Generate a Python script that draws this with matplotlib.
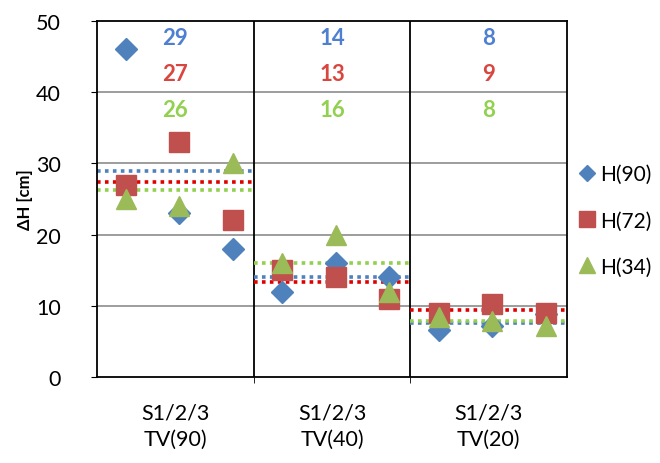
import numpy as np
import matplotlib
matplotlib.use("Agg")
import matplotlib.pyplot as plt

plt.rcParams['font.family'] = ['Lato', 'DejaVu Sans']

groups = ["S1/2/3\nTV(90)", "S1/2/3\nTV(40)", "S1/2/3\nTV(20)"]
series_names = ["H(90)", "H(72)", "H(34)"]

# S1, S2, S3 values for each group
h90 = [[46, 23, 18], [12, 16, 14], [6.6, 7.1, 8.9]]
h72 = [[27, 33, 22], [15, 14, 11], [9, 10.2, 9]]
h34 = [[25, 24, 30], [16, 20, 12], [8.4, 7.8, 7.2]]

marker_colors = ["#4F81BD", "#C0504D", "#9BBB59"]
line_colors = ["#4F81BD", "#E00000", "#92D050"]
label_colors = ["#4F7FD0", "#D9463F", "#92D050"]
markers = ["D", "s", "^"]
msizes = [11.5, 15, 15]

fig = plt.figure(figsize=(6.6, 4.64), dpi=100)
ax = fig.add_axes([97 / 660, 1 - 378 / 464, (567 - 97) / 660, (378 - 22) / 464])

offsets = np.array([0.55, 1.57, 2.6])
all_series = [h90, h72, h34]

# Dotted group-mean lines
for si, data in enumerate(all_series):
    for gi, vals in enumerate(data):
        mean = np.mean(vals)
        ax.plot([gi * 3, gi * 3 + 3], [mean, mean], linestyle=(0, (1, 1.2)),
                color=line_colors[si], lw=2.6, zorder=2)

# Individual measurements
for si, data in enumerate(all_series):
    for gi, vals in enumerate(data):
        xs = gi * 3 + offsets
        ax.plot(xs, vals, linestyle="none", marker=markers[si], ms=msizes[si],
                color=marker_colors[si], mec=marker_colors[si], zorder=3 + si,
                label=series_names[si] if gi == 0 else None)

# Group mean labels at the top
label_y = [47.7, 42.6, 37.6]
for si, data in enumerate(all_series):
    for gi, vals in enumerate(data):
        ax.text(gi * 3 + 1.5, label_y[si], f"{np.mean(vals):.0f}",
                ha="center", va="center", fontsize=16, fontweight="bold",
                color=label_colors[si], zorder=6)

ax.set_xlim(0, 9)
ax.set_ylim(0, 50)
ax.set_yticks(range(0, 51, 10))
ax.set_xticks([1.5, 4.5, 7.5])
ax.set_xticklabels(groups, linespacing=1.45)
ax.set_xticks([3, 6], minor=True)
ax.tick_params(axis="x", which="major", length=0, pad=18, labelsize=15.5)
ax.tick_params(axis="x", which="minor", length=4, direction="out")
ax.tick_params(axis="y", length=4, direction="out", labelsize=15.5, pad=22)

for y in range(10, 50, 10):
    ax.axhline(y, color="#8C8C8C", lw=1.2, zorder=1)
for x in [3, 6]:
    ax.axvline(x, color="black", lw=1.3, zorder=1)
for sp in ax.spines.values():
    sp.set_color("black")
    sp.set_linewidth(1.3)

ax.set_ylabel("ΔH [cm]", fontsize=12, fontweight="bold", labelpad=2)

ax.legend(loc="center left", bbox_to_anchor=(1.0, 0.44), frameon=False,
          fontsize=15, labelspacing=1.25, handlelength=0.8, handletextpad=0.25,
          borderaxespad=0.15, markerscale=0.75)

fig.savefig("out.png", dpi=100)
